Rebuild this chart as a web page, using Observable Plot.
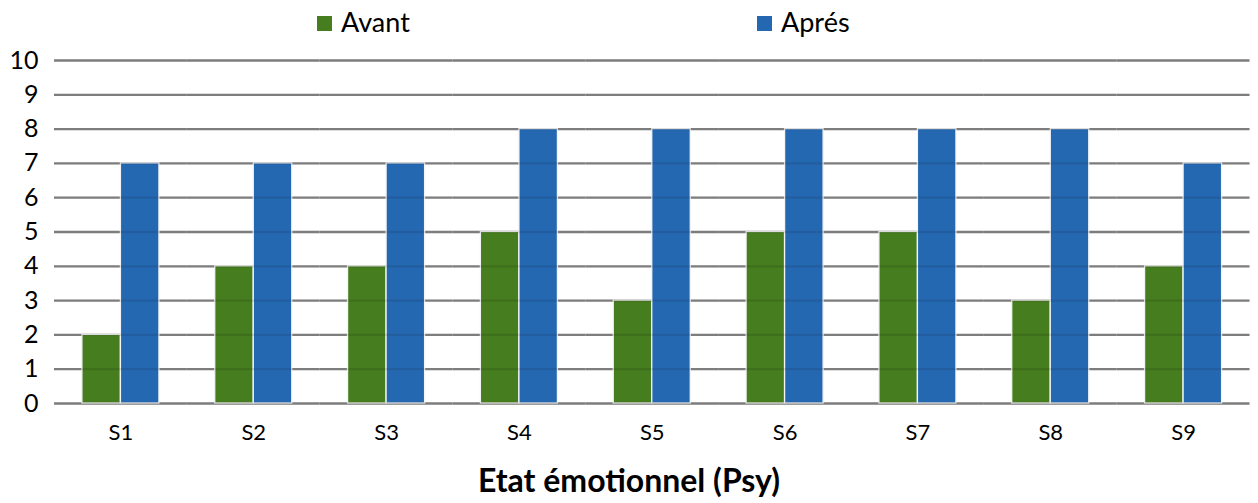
<!DOCTYPE html>
<html>
<head>
<meta charset="utf-8">
<script src="https://cdn.jsdelivr.net/npm/d3@7"></script>
<script src="https://cdn.jsdelivr.net/npm/@observablehq/plot@0.6"></script>
<style>
  body { margin: 0; background: #fff; font-family: Lato, "Open Sans", sans-serif; }
  #wrap { width: 1258px; height: 503px; position: relative; overflow: hidden; }
  #legend { position: relative; height: 44px; }
  .item { position: absolute; top: 5px; display: flex; align-items: center; font-size: 27px; color: #000; }
  .sw { width: 15px; height: 15px; margin-right: 9px; margin-top: 3px; }
  #title { text-align: center; font-weight: bold; font-size: 32px; color: #000; margin-top: 7px; }
</style>
</head>
<body>
<div id="wrap">
  <div id="legend"></div>
  <div id="chart"></div>
  <div id="title"></div>
</div>
<script>
const categories = ["S1", "S2", "S3", "S4", "S5", "S6", "S7", "S8", "S9"];
const seriesNames = ["Avant", "Aprés"];
const avant = [2, 4, 4, 5, 3, 5, 5, 3, 4];
const apres = [7, 7, 7, 8, 8, 8, 8, 8, 7];
const colors = ["#467d1f", "#2568b2"];
const yTicks = [0, 1, 2, 3, 4, 5, 6, 7, 8, 9, 10];
const titleText = "Etat émotionnel (Psy)";

const data = [];
categories.forEach((c, i) => {
  data.push({cat: c, series: seriesNames[0], value: avant[i]});
  data.push({cat: c, series: seriesNames[1], value: apres[i]});
});

// legend
const legend = document.getElementById("legend");
const legendX = [317, 757];
seriesNames.forEach((s, i) => {
  const it = document.createElement("div");
  it.className = "item";
  it.style.left = legendX[i] + "px";
  const sw = document.createElement("div");
  sw.className = "sw";
  sw.style.background = colors[i];
  it.appendChild(sw);
  it.appendChild(document.createTextNode(s));
  legend.appendChild(it);
});

const mL = 54, mR = 8.5;
const pInner = 0.42;
const step = (1258 - mL - mR) / categories.length;
const half = -(pInner * step) / 2;

const chart = Plot.plot({
  width: 1258,
  height: 409,
  marginTop: 16,
  marginBottom: 50,
  marginLeft: mL,
  marginRight: mR,
  style: {fontFamily: "Lato, 'Open Sans', sans-serif", color: "#000", background: "#fff"},
  fx: {domain: categories, paddingInner: pInner, paddingOuter: pInner / 2, round: false, label: null},
  x: {domain: seriesNames, padding: 0, round: false, axis: null},
  y: {domain: [0, 10], axis: null},
  color: {domain: seriesNames, range: colors},
  marks: [
    Plot.ruleY(yTicks, {stroke: "#8c8c8c", strokeWidth: 2.3, insetLeft: half, insetRight: half}),
    Plot.barY(data, {fx: "cat", x: "series", y: "value", fill: "series", stroke: "#f4f4f4", strokeWidth: 1.3}),
    Plot.ruleY(yTicks, {stroke: "#000", strokeOpacity: 0.1, strokeWidth: 2.3, insetLeft: half, insetRight: half}),
    Plot.axisY({ticks: yTicks, tickSize: 0, tickPadding: 16 - half, fontSize: 25, label: null, tickFormat: d => String(d)}),
    Plot.axisFx({anchor: "bottom", tickSize: 0, tickPadding: 21, fontSize: 22, label: null})
  ]
});
document.getElementById("chart").appendChild(chart);
document.getElementById("title").textContent = titleText;
</script>
</body>
</html>
